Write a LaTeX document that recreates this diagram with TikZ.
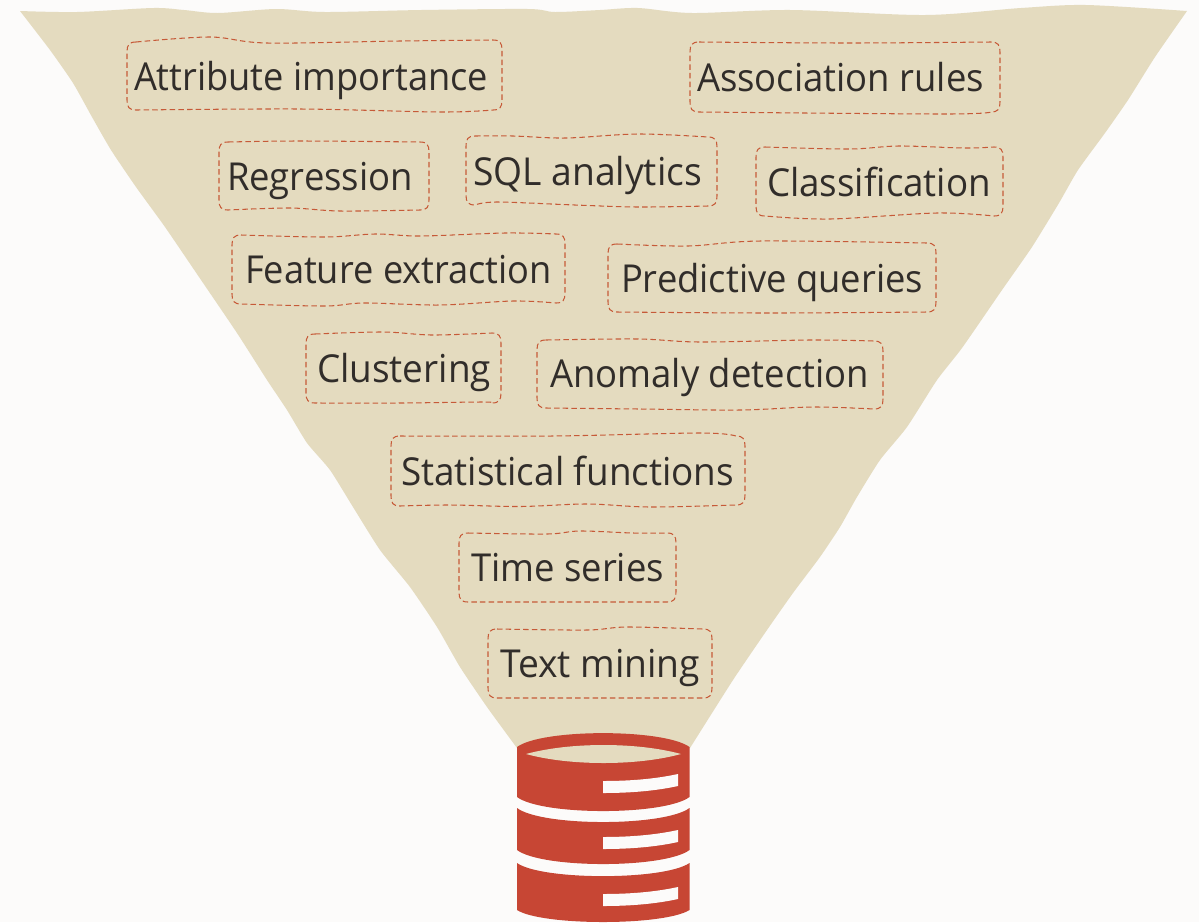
\documentclass[tikz,border=0pt]{standalone}
\usepackage{fontspec}
\usepackage{graphicx}
\setmainfont[Ligatures=NoCommon]{Open Sans}
\definecolor{pagebg}{HTML}{FCFBFA}
\definecolor{funnelc}{HTML}{E4DBBF}
\definecolor{redc}{HTML}{C74634}
\definecolor{dashc}{HTML}{C65A38}
\definecolor{textc}{HTML}{312D2A}
\tikzset{
  wobblebox/.style={draw=dashc,line width=1.05pt,dash pattern=on 5.5pt off 3.2pt},
  smoothline/.style={smooth,tension=0.55},
  label/.style={anchor=base west,inner sep=0pt,outer sep=0pt,text=textc,font=\fontsize{38.5pt}{40pt}\selectfont},
}
% x0 x1 ytopleft ytopright ybottomright ybottomleft topmids bottommids
\newcommand\wbox[8]{%
  \draw[wobblebox] (#1+9,#3) -- plot[smoothline] coordinates {(#1+9,#3) #7 (#2-9,#4)}
    .. controls (#2-2,#4) and (#2,#4+3) .. (#2,#4+10)
    -- (#2,#5-10)
    .. controls (#2,#5-3) and (#2-2,#5) .. (#2-9,#5)
    -- plot[smoothline] coordinates {(#2-9,#5) #8 (#1+9,#6)}
    .. controls (#1+2,#6) and (#1,#6-3) .. (#1,#6-10)
    -- (#1,#3+10)
    .. controls (#1,#3+3) and (#1+2,#3) .. (#1+9,#3) -- cycle;}
\newcommand\lab[5]{\pgfmathsetmacro\labwd{#4+2}\node[label] (#1) at (#2-1,#3) {\resizebox{\labwd pt}{\height}{#5}};}
\begin{document}
\begin{tikzpicture}[x=1pt,y=-1pt]
\useasboundingbox (0,0) rectangle (1199,922);
\fill[pagebg] (0,0) rectangle (1199,922);
% funnel
\fill[funnelc] plot[smooth,tension=0.5] coordinates {(20,11) (77,12) (153,8) (184,10) (218,13) (276,9) (325,12) (421,10) (528,9) (555,12) (600,10) (638,8) (692,13) (791,10) (925,15) (1021,8) (1086,5) (1187,11)}
 -- plot[smooth,tension=0.35] coordinates {(1187,11) (1155,57) (1128,100) (1105,133) (1078,170) (1059,203) (1032,247) (1002,290) (962,348) (937,380) (907,427) (880,460) (857,497) (840,527) (820,557) (793,593) (767,630) (733,680) (690,748)}
 -- (603,770) -- (517,748)
 -- plot[smooth,tension=0.35] coordinates {(517,748) (487,707) (460,667) (437,627) (410,587) (380,550) (353,507) (330,470) (307,443) (287,410) (267,380) (237,333) (199,277) (165,227) (136,187) (111,150) (92,117) (73,83) (50,50) (20,11)} -- cycle;
% boxes
\wbox{127}{502}{42}{40}{110}{110}{(210,37) (267,43) (400,41)}{(440,112) (300,109)}
\wbox{690}{1000}{42}{42}{112}{112}{(849,43)}{(944,114)}
\wbox{219}{429}{142}{142}{210}{210}{(300,141)}{(340,211) (290,208)}
\wbox{466}{717}{136}{137}{206}{205}{(513,136) (566,138) (638,134)}{(638,207) (575,205) (497,202)}
\wbox{756}{1003}{147}{147}{216}{216}{(849,149) (899,146) (964,148)}{(937,213) (830,219)}
\wbox{232}{565}{235}{234}{303}{304}{(325,237) (375,234) (421,236) (505,233)}{(513,301) (440,305) (364,303) (325,306)}
\wbox{608}{936}{244}{243}{312}{312}{(688,246) (761,241)}{(770,313)}
\wbox{306}{501}{334}{333}{403}{403}{(383,332) (432,335)}{(483,402) (400,403)}
\wbox{537}{883}{340}{341}{409}{408}{(638,339) (700,342) (810,340)}{(813,407) (740,410) (640,409)}
\wbox{391}{745}{436}{436}{505}{506}{(553,436) (700,433)}{(650,507) (587,504) (520,506.5) (450,505)}
\wbox{459}{676}{533}{533}{602}{602}{(547,534) (580,531) (633,533)}{(570,602)}
\wbox{488}{712}{629}{629}{698}{698}{(587,630) (627,627)}{(600,698)}
% labels
\lab{attr}{135}{90}{352}{Attribute importance}
\lab{assoc}{698}{91}{285}{Association rules}
\lab{regr}{228}{190}{184}{Regression}
\lab{sql}{474}{185}{227}{SQL analytics}
\lab{classif}{768}{196}{222}{Classification}
\lab{feat}{246}{283}{305}{Feature extraction}
\lab{pred}{622}{292}{300}{Predictive queries}
\lab{clust}{318}{382}{172}{Clustering}
\lab{anom}{551}{387.5}{317}{Anomaly detection}
\lab{stat}{402}{485}{331}{Statistical functions}
\lab{time}{472}{581}{191}{Time series}
\lab{textm}{501}{677}{198}{Text mining}
% database
\fill[redc] (517,747) .. controls (542,728.5) and (664,728.5) .. (689.5,747) -- (689.5,797)
  .. controls (664,815.7) and (542,815.7) .. (517,797) -- cycle;
\fill[redc] (517,808) .. controls (542,826.7) and (664,826.7) .. (689.5,808) -- (689.5,850)
  .. controls (664,868.7) and (542,868.7) .. (517,850) -- cycle;
\fill[redc] (517,863) .. controls (542,880.5) and (664,880.5) .. (689.5,863) -- (689.5,910)
  .. controls (664,926) and (542,926) .. (517,910) -- cycle;
\fill[funnelc] (526,754) .. controls (570,742) and (637,742) .. (681,754) .. controls (637,766) and (570,766) .. (526,754) -- cycle;
\foreach \yy in {781,837,894}{
  \fill[pagebg] (603,\yy) .. controls (630,\yy) and (655,\yy-2) .. (678,\yy-7) -- (678,\yy+5)
    .. controls (655,\yy+10) and (630,\yy+12) .. (603,\yy+12) -- cycle;
}
\end{tikzpicture}
\end{document}
